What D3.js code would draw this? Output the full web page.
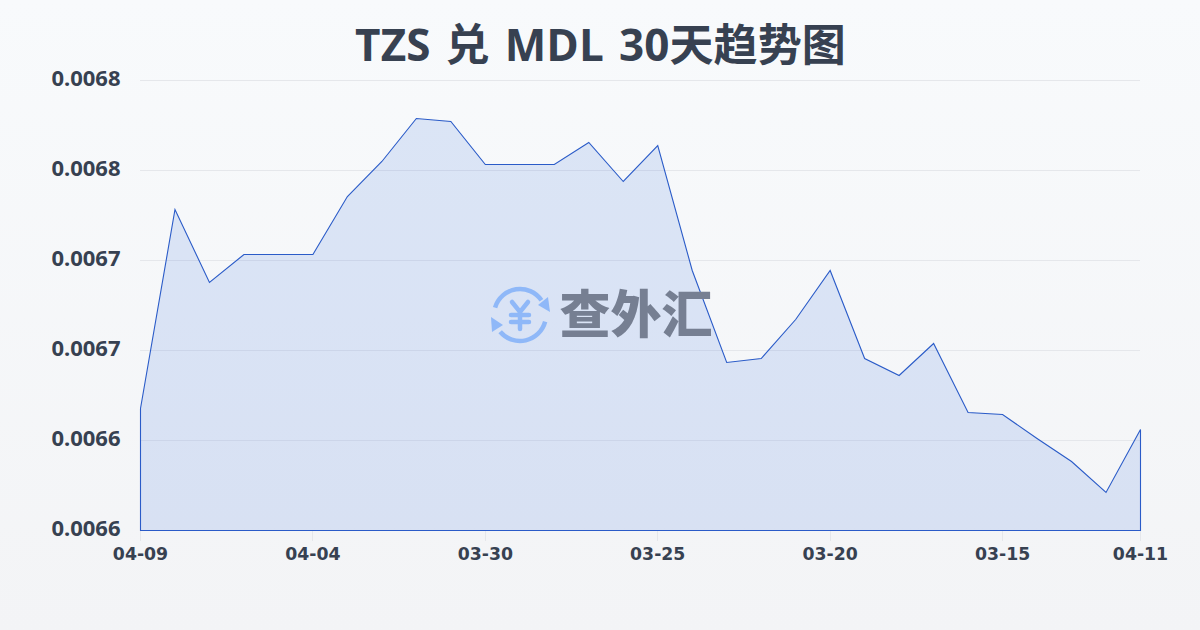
<!DOCTYPE html>
<html><head><meta charset="utf-8">
<script src="https://cdn.jsdelivr.net/npm/d3@7"></script>
<style>
html,body{margin:0;padding:0;width:1200px;height:630px;overflow:hidden}
svg{display:block}
</style></head><body>
<svg id="c" width="1200" height="630"></svg>
<script>
const titleText = "TZS 兑 MDL 30天趋势图";
const watermarkText = "查外汇";
const dates = ["04-09","04-08","04-07","04-06","04-05","04-04","04-03","04-02","04-01","03-31",
  "03-30","03-29","03-28","03-27","03-26","03-25","03-24","03-23","03-22","03-21",
  "03-20","03-19","03-18","03-17","03-16","03-15","03-14","03-13","03-12","04-11"];
const rates = [0.00665422,0.00674267,0.00671022,0.00672267,0.00672267,0.00672267,0.00674844,0.006764,0.00678311,0.00678178,
  0.00676267,0.00676267,0.00676267,0.00677244,0.00675511,0.00677111,0.00671556,0.00667467,0.00667644,0.00669378,
  0.00671556,0.00667644,0.00666889,0.00668311,0.00665244,0.00665156,0.00664089,0.00663067,0.00661689,0.00664489];
const xTickLabels = ["04-09","04-04","03-30","03-25","03-20","03-15","04-11"];
const xTickIndexes = [0,5,10,15,20,25,29];
const yTicks = [0.0066,0.00664,0.00668,0.00672,0.00676,0.0068];

const svg = d3.select("#c");
const defs = svg.append("defs");
const bg = defs.append("linearGradient").attr("id","bg").attr("x1",0).attr("y1",0).attr("x2",0).attr("y2",1);
bg.append("stop").attr("offset",0).attr("stop-color","#f8fafc");
bg.append("stop").attr("offset",1).attr("stop-color","#f3f4f6");
svg.append("rect").attr("width",1200).attr("height",630).attr("fill","url(#bg)");

const x = d3.scalePoint().domain(d3.range(dates.length)).range([140.5,1140.5]);
const y = d3.scaleLinear().domain([0.0066,0.0068]).range([530.5,80.5]);

svg.append("g").selectAll("line").data(yTicks.slice(1)).join("line")
  .attr("x1",140).attr("x2",1140).attr("y1",d=>Math.floor(y(d))+.5).attr("y2",d=>Math.floor(y(d))+.5)
  .attr("stroke","#e5e7eb").attr("stroke-width",1);

const area = d3.area().x((d,i)=>x(i)).y0(y(0.0066)).y1(d=>y(d));
svg.append("path").datum(rates).attr("d",area).attr("fill","#3f72de").attr("fill-opacity",.15)
  .attr("stroke","#2a5bc8").attr("stroke-width",1.1).attr("stroke-linejoin","miter");

svg.append("g").selectAll("text").data(yTicks).join("text")
  .attr("x",120.5).attr("y",d=>y(d)-2).attr("dy","0.35em").attr("text-anchor","end")
  .style("font-family",'"Noto Sans"')
  .attr("font-size",22).attr("font-weight",700).attr("fill","#374151")
  .text(d=>d3.format(".4f")(d));
const xt = svg.append("g");
xt.selectAll("line").data(xTickIndexes).join("line")
  .attr("x1",i=>Math.floor(x(i))+.5).attr("x2",i=>Math.floor(x(i))+.5).attr("y1",531).attr("y2",541)
  .attr("stroke","#e5e7eb");
xt.selectAll("text").data(xTickIndexes).join("text")
  .attr("x",i=>x(i)).attr("y",560).attr("text-anchor","middle")
  .style("font-family",'"DejaVu Sans"')
  .attr("font-size",17.3).attr("font-weight",700).attr("fill","#374151")
  .text((d,i)=>xTickLabels[i]);

svg.append("text").attr("x",600.5).attr("y",61).attr("text-anchor","middle")
  .attr("font-size",44).attr("font-weight",700).attr("fill","#374151")
  .attr("word-spacing",3.5).attr("letter-spacing",0.1)
  .style("font-family",'"Open Sans","Noto Sans CJK SC",sans-serif').text(titleText);

const wm = svg.append("g");
const ic = wm.append("g").attr("transform","translate(520,315)").attr("fill","none").attr("stroke","#8fb8f8").attr("stroke-linecap","round");
const arc = d3.arc().innerRadius(26).outerRadius(26);
ic.append("path").attr("stroke-width",4.5).attr("d",arc({startAngle:-1.28,endAngle:0.97}));
ic.append("path").attr("stroke-width",4.5).attr("d",arc({startAngle:1.83,endAngle:4.01}));
ic.append("path").attr("fill","#8fb8f8").attr("stroke","none").attr("d",d3.line()([[30,-3],[28,-18],[18,-10]])+"Z");
ic.append("path").attr("fill","#8fb8f8").attr("stroke","none").attr("d",d3.line()([[-29,2],[-28,17],[-17,10]])+"Z");
ic.append("path").attr("stroke-width",4.5).attr("d","M-8,-13 L0,-3 L8,-13 M0,-3 V14 M-9,0 H9 M-9,7 H9");
wm.append("text").attr("x",636).attr("y",333).attr("text-anchor","middle")
  .attr("font-size",51).attr("font-weight",900).attr("fill","#767f92")
  .style("font-family",'"Noto Sans CJK SC"').text(watermarkText);
</script>
</body></html>
